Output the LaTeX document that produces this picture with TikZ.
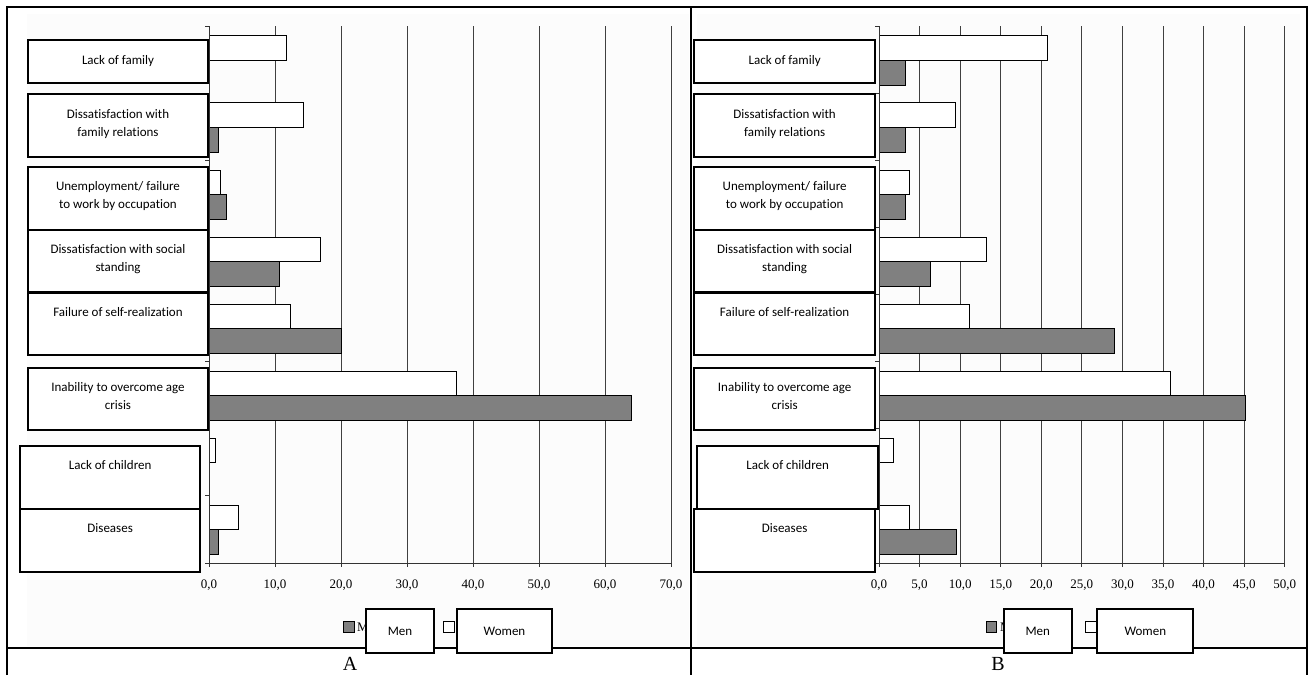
\documentclass[tikz,border=0pt]{standalone}
\usepackage{fontspec}
\setmainfont{Liberation Serif}
\newfontfamily\calibfont[Ligatures=NoCommon]{Carlito}
\usetikzlibrary{positioning}

\tikzset{
  frameline/.style={line width=2.5pt},
  gridline/.style={line width=1pt, black!75},
  axisline/.style={line width=0.9pt, black!80},
  catbox/.style={draw, line width=2pt, fill=white, anchor=north west, inner sep=0pt},
  cattext/.style={font=\calibfont\fontsize{13}{18.5}\selectfont, align=center, anchor=north, inner sep=0pt},
  womenbar/.style={draw, line width=0.9pt, fill=white},
  menbar/.style={draw, line width=0.9pt, fill=black!50},
  ticklabel/.style={font=\fontsize{13}{15}\selectfont, inner sep=0pt},
  keybox/.style={draw, line width=0.9pt, minimum size=10.6pt, inner sep=0pt},
  legbox/.style={draw, line width=2pt, fill=white, minimum height=43.7pt, inner sep=0pt, font=\calibfont\fontsize{13}{15}\selectfont},
  panellabel/.style={font=\fontsize{20}{22}\selectfont, anchor=north, inner sep=0pt},
}

\begin{document}
\begin{tikzpicture}[x=1pt, y=-1pt]
    \useasboundingbox (0,0) rectangle (1309,675);

    % chart areas
    \fill[black!1] (27,14) rectangle (689,646);
    \fill[black!1] (697,14) rectangle (1300,646);

    % ---------- chart A ----------
    \foreach \v in {10,20,...,70}
        \draw[gridline] ({209+6.6*\v},26) -- ({209+6.6*\v},563);

    % bars: band / women / men
    \foreach \i/\w/\m in {0/11.7/0, 1/14.3/1.4, 2/1.8/2.7, 3/16.9/10.7,
                          4/12.4/20.0, 5/37.5/64.0, 6/1.0/0, 7/4.4/1.4} {
        \draw[womenbar] (209,{26+67.125*\i+9.8}) rectangle ({209+6.6*\w},{26+67.125*\i+34});
        \draw[menbar] (209,{26+67.125*\i+34}) rectangle ({209+6.6*\m},{26+67.125*\i+59});
    }

    \draw[axisline] (209,26) -- (209,563) -- (671,563);
    \foreach \k in {0,...,8}
        \draw[axisline] (205,{26+67.125*\k}) -- (209,{26+67.125*\k});
    \foreach \v in {0,10,...,70} {
        \draw[axisline] ({209+6.6*\v},563) -- ({209+6.6*\v},567);
        \node[ticklabel] (tA\v) at ({209+6.6*\v},585) {\v,0};
    }

    % category boxes A
    \node[catbox, minimum width=180pt, minimum height=43pt] (famA) at (27,39.3) {};
    \node[cattext, below=15.5pt of famA.north] (famAt) {Lack of family};
    \node[catbox, minimum width=180pt, minimum height=62.7pt] (relA) at (27,93.3) {};
    \node[cattext, below=15.5pt of relA.north] (relAt) {Dissatisfaction with\\family relations};
    \node[catbox, minimum width=180pt, minimum height=63pt] (jobA) at (27,165.7) {};
    \node[cattext, below=15.5pt of jobA.north] (jobAt) {Unemployment/ failure\\to work by occupation};
    \node[catbox, minimum width=180pt, minimum height=62pt] (socA) at (27,228.7) {};
    \node[cattext, below=15.5pt of socA.north] (socAt) {Dissatisfaction with social\\standing};
    \node[catbox, minimum width=180pt, minimum height=62.3pt] (selfA) at (27,291.7) {};
    \node[cattext, below=15.5pt of selfA.north] (selfAt) {Failure of self-realization};
    \node[catbox, minimum width=180pt, minimum height=62.6pt] (ageA) at (27,366.7) {};
    \node[cattext, below=15.5pt of ageA.north] (ageAt) {Inability to overcome age\\crisis};
    \node[catbox, minimum width=180.3pt, minimum height=62.7pt] (kidA) at (19,445) {};
    \node[cattext, below=15.5pt of kidA.north] (kidAt) {Lack of children};
    \node[catbox, minimum width=180.3pt, minimum height=63pt] (disA) at (19,507.7) {};
    \node[cattext, below=15.5pt of disA.north] (disAt) {Diseases};

    % ---------- chart B ----------
    \foreach \v in {5,10,...,50}
        \draw[gridline] ({879+8.114*\v},26) -- ({879+8.114*\v},563);

    \foreach \i/\w/\m in {0/20.8/3.2, 1/9.4/3.2, 2/3.7/3.2, 3/13.2/6.4,
                          4/11.2/29.0, 5/35.9/45.1, 6/1.8/0, 7/3.7/9.6} {
        \draw[womenbar] (879,{26+67.125*\i+9.8}) rectangle ({879+8.114*\w},{26+67.125*\i+34});
        \draw[menbar] (879,{26+67.125*\i+34}) rectangle ({879+8.114*\m},{26+67.125*\i+59});
    }

    \draw[axisline] (879,26) -- (879,563) -- (1284.7,563);
    \foreach \k in {0,...,8}
        \draw[axisline] (875,{26+67.125*\k}) -- (879,{26+67.125*\k});
    \foreach \v in {0,5,...,50} {
        \draw[axisline] ({879+8.114*\v},563) -- ({879+8.114*\v},567);
        \node[ticklabel] (tB\v) at ({879+8.114*\v},585) {\v,0};
    }

    % category boxes B
    \node[catbox, minimum width=180.7pt, minimum height=43pt] (famB) at (693.3,39.3) {};
    \node[cattext, below=15.5pt of famB.north] (famBt) {Lack of family};
    \node[catbox, minimum width=180.7pt, minimum height=62.7pt] (relB) at (693.3,93.3) {};
    \node[cattext, below=15.5pt of relB.north] (relBt) {Dissatisfaction with\\family relations};
    \node[catbox, minimum width=180.7pt, minimum height=63pt] (jobB) at (693.3,165.7) {};
    \node[cattext, below=15.5pt of jobB.north] (jobBt) {Unemployment/ failure\\to work by occupation};
    \node[catbox, minimum width=180.7pt, minimum height=62pt] (socB) at (693.3,228.7) {};
    \node[cattext, below=15.5pt of socB.north] (socBt) {Dissatisfaction with social\\standing};
    \node[catbox, minimum width=180.7pt, minimum height=62.3pt] (selfB) at (693.3,291.7) {};
    \node[cattext, below=15.5pt of selfB.north] (selfBt) {Failure of self-realization};
    \node[catbox, minimum width=180.7pt, minimum height=62.6pt] (ageB) at (693.3,366.7) {};
    \node[cattext, below=15.5pt of ageB.north] (ageBt) {Inability to overcome age\\crisis};
    \node[catbox, minimum width=181.3pt, minimum height=62.7pt] (kidB) at (696,445) {};
    \node[cattext, below=15.5pt of kidB.north] (kidBt) {Lack of children};
    \node[catbox, minimum width=180.7pt, minimum height=63pt] (disB) at (693.3,507.7) {};
    \node[cattext, below=15.5pt of disB.north] (disBt) {Diseases};

    % table frame
    \draw[frameline] (7,675) -- (7,7) -- (1307,7) -- (1307,675);
    \draw[frameline] (691,7) -- (691,675);
    \draw[frameline] (7,648) -- (1307,648);

    % legends
    \node[font=\fontsize{13}{15}\selectfont, anchor=west, inner sep=0pt] (keytxtA) at (357,627) {Men};
    \node[keybox, fill=black!50] (keyMenA) at (348.7,627) {};
    \node[keybox, fill=white] (keyWomA) at (448.7,627) {};
    \node[legbox, minimum width=68pt] (legMenA) at (400,630.9) {Men};
    \node[legbox, minimum width=95.6pt] (legWomA) at (504.5,630.9) {Women};

    \node[font=\fontsize{13}{15}\selectfont, anchor=west, inner sep=0pt] (keytxtB) at (1000,627) {Men};
    \node[keybox, fill=black!50] (keyMenB) at (991.3,627) {};
    \node[keybox, fill=white] (keyWomB) at (1090.8,627) {};
    \node[legbox, minimum width=67.7pt] (legMenB) at (1037.8,630.9) {Men};
    \node[legbox, minimum width=96pt] (legWomB) at (1145.3,630.9) {Women};

    % panel labels
    \node[panellabel] (labA) at (350,656.7) {A};
    \node[panellabel] (labB) at (998,656.7) {B};
\end{tikzpicture}
\end{document}
